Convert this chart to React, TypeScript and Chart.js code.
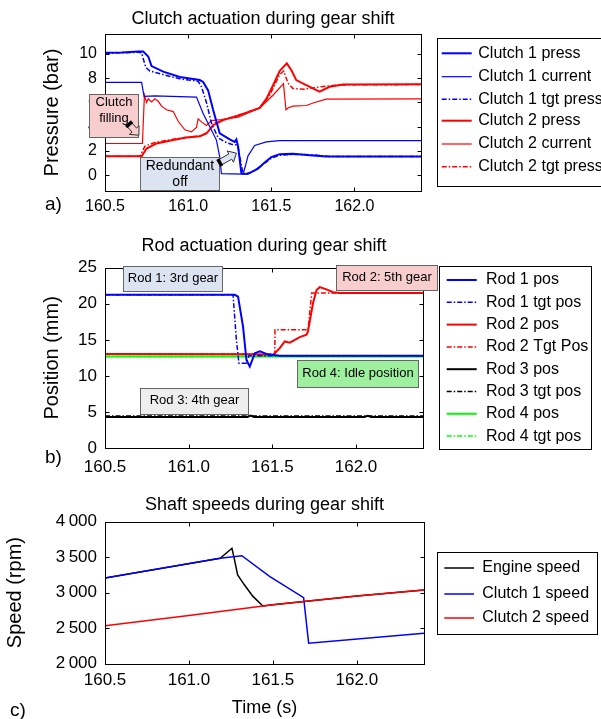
import React, { useEffect, useRef } from "react";
import { Chart, registerables } from "chart.js";

Chart.register(...registerables);

const FONT = "'Liberation Sans', Arial, Helvetica, sans-serif";

// ---------- shared time axis ----------
const timeMin = 160.5;
const timeMax = 162.4;
const timeTicks = [160.5, 161.0, 161.5, 162.0];

// ---------- a) clutch actuation ----------
const pressureTicks = [0, 2, 4, 6, 8, 10];
const c1PressT = [160.50, 160.60, 160.70, 160.73, 160.76, 160.78, 160.85, 160.95, 161.07, 161.09, 161.12, 161.15, 161.19, 161.25, 161.28, 161.29, 161.30, 161.32, 161.35, 161.38, 161.42, 161.46, 161.50, 161.55, 161.63, 161.73, 161.83, 162.00, 162.40];
const c1PressY = [10.10, 10.12, 10.20, 10.20, 9.80, 9.00, 8.55, 8.10, 7.85, 7.70, 7.00, 5.40, 3.45, 2.95, 2.75, 2.95, 2.40, 0.15, 0.10, 0.25, 0.55, 1.05, 1.50, 1.74, 1.78, 1.65, 1.55, 1.55, 1.55];
const c1CurT = [160.50, 160.72, 160.735, 160.80, 161.05, 161.09, 161.13, 161.17, 161.19, 161.20, 161.33, 161.345, 161.36, 161.40, 161.47, 161.55, 161.70, 162.40];
const c1CurY = [7.66, 7.66, 6.50, 6.55, 6.45, 5.10, 4.00, 2.90, 1.50, 0.14, 0.10, 0.80, 1.60, 2.45, 2.75, 2.85, 2.86, 2.86];
const c1TgtT = [160.50, 160.70, 160.72, 160.745, 160.77, 160.85, 160.95, 161.06, 161.08, 161.11, 161.14, 161.18, 161.22, 161.26, 161.29, 161.30, 161.33, 161.36, 161.40, 161.45, 161.50, 161.55, 161.65, 161.75, 161.85, 162.40];
const c1TgtY = [10.05, 10.15, 10.10, 8.90, 8.60, 8.30, 7.95, 7.75, 7.30, 6.00, 4.30, 3.10, 2.75, 2.55, 2.50, 2.30, 0.10, 0.10, 0.40, 0.90, 1.40, 1.65, 1.72, 1.68, 1.55, 1.55];
const c2PressT = [160.50, 160.72, 160.75, 160.81, 160.91, 160.99, 161.07, 161.11, 161.15, 161.21, 161.31, 161.43, 161.47, 161.51, 161.55, 161.593, 161.62, 161.65, 161.71, 161.79, 161.85, 161.93, 162.40];
const c2PressY = [1.57, 1.57, 2.20, 2.62, 2.90, 3.12, 3.22, 3.44, 4.13, 4.55, 4.96, 5.55, 6.30, 7.40, 8.60, 9.23, 8.68, 7.85, 7.44, 6.89, 7.30, 7.49, 7.50];
const c2CurT = [160.50, 160.725, 160.737, 160.75, 160.76, 160.78, 160.80, 160.82, 160.84, 160.87, 160.91, 160.94, 160.98, 161.02, 161.05, 161.06, 161.08, 161.11, 161.14, 161.20, 161.30, 161.43, 161.51, 161.573, 161.588, 161.60, 161.63, 161.71, 161.76, 161.83, 162.40];
const c2CurY = [2.62, 2.62, 6.60, 6.00, 6.30, 6.05, 6.30, 6.10, 5.70, 5.40, 5.25, 4.45, 3.75, 3.58, 3.95, 4.65, 4.40, 4.10, 4.50, 4.60, 4.80, 5.55, 6.60, 7.55, 5.40, 5.55, 5.70, 5.75, 6.00, 6.28, 6.30];
const c2TgtT = [160.50, 160.71, 160.74, 160.80, 160.90, 161.00, 161.08, 161.12, 161.16, 161.22, 161.31, 161.43, 161.49, 161.55, 161.575, 161.60, 161.63, 161.70, 161.80, 161.90, 162.40];
const c2TgtY = [1.57, 1.57, 2.40, 2.70, 2.95, 3.15, 3.25, 3.60, 4.30, 4.60, 5.00, 5.55, 6.60, 8.30, 8.60, 7.60, 7.15, 7.10, 7.30, 7.45, 7.48];

// ---------- b) rod actuation ----------
const positionTicks = [0, 5, 10, 15, 20, 25];
const r1PosT = [160.50, 161.275, 161.295, 161.325, 161.345, 161.365, 161.395, 161.425, 161.465, 161.544, 162.40];
const r1PosY = [21.25, 21.25, 21.0, 16.8, 12.2, 11.3, 13.15, 13.4, 13.05, 12.8, 12.78];
const r1TgtT = [160.50, 161.265, 161.285, 161.30, 161.345, 161.36, 162.40];
const r1TgtY = [21.25, 21.25, 15.0, 11.76, 11.76, 12.8, 12.8];
const r2PosT = [160.50, 161.40, 161.504, 161.544, 161.574, 161.604, 161.664, 161.704, 161.713, 161.743, 161.764, 161.783, 161.823, 161.863, 161.903, 162.40];
const r2PosY = [13.05, 13.0, 12.9, 13.84, 14.77, 14.6, 15.37, 15.7, 16.2, 20.1, 21.9, 22.3, 22.0, 21.6, 21.5, 21.5];
const r2TgtT = [160.50, 161.514, 161.516, 161.713, 161.735, 162.40];
const r2TgtY = [13.05, 13.05, 16.4, 16.4, 21.5, 21.5];
const r3PosT = [160.50, 161.35, 161.37, 161.39, 162.05, 162.07, 162.09, 162.40];
const r3PosY = [4.3, 4.3, 4.5, 4.3, 4.3, 4.45, 4.3, 4.3];
const r3TgtT = [160.50, 162.40];
const r3TgtY = [4.45, 4.45];
const r4PosT = [160.50, 162.40];
const r4PosY = [12.68, 12.68];
const r4TgtT = [160.50, 162.40];
const r4TgtY = [12.68, 12.68];

// ---------- c) shaft speeds ----------
const speedTicks = [2000, 2500, 3000, 3500, 4000];
const engineT = [160.50, 161.186, 161.256, 161.268, 161.29, 161.33, 161.38, 161.44, 161.50, 162.00, 162.40];
const engineY = [3205, 3484, 3625, 3500, 3250, 3110, 2950, 2812, 2830, 2953, 3037];
const c1SpeedT = [160.50, 161.186, 161.315, 161.48, 161.683, 161.713, 162.40];
const c1SpeedY = [3205, 3484, 3521, 3230, 2929, 2287, 2428];
const c2SpeedT = [160.50, 161.00, 161.50, 162.00, 162.40];
const c2SpeedY = [2531, 2676, 2830, 2953, 3037];

// ---------- helpers ----------
const DASHDOT = [5, 2, 1.5, 2];
const pts = (t: number[], v: number[]) => t.map((x, i) => ({ x, y: v[i] }));
function series(label: string, t: number[], v: number[], color: string, width: number, dash: boolean, order = 0) {
  return {
    label,
    data: pts(t, v),
    borderColor: color,
    backgroundColor: color,
    borderWidth: width,
    borderDash: dash ? DASHDOT : [],
    pointRadius: 0,
    pointHoverRadius: 0,
    tension: 0,
    fill: false,
    order,
  };
}

const crisp = (v: number) => Math.round(v) + 0.5;

const framePlugin = {
  id: "frame",
  afterDatasetsDraw(chart: any) {
    const { ctx, chartArea: a, scales } = chart;
    const l = crisp(a.left), r = crisp(a.right), t = crisp(a.top), b = crisp(a.bottom);
    ctx.save();
    ctx.strokeStyle = "#000";
    ctx.lineWidth = 1;
    ctx.setLineDash([]);
    ctx.strokeRect(l, t, r - l, b - t);
    const L = 4;
    ctx.beginPath();
    scales.x.ticks.forEach((tk: any) => {
      const p = crisp(scales.x.getPixelForValue(tk.value));
      ctx.moveTo(p, b); ctx.lineTo(p, b - L);
      ctx.moveTo(p, t); ctx.lineTo(p, t + L);
    });
    scales.y.ticks.forEach((tk: any) => {
      const p = crisp(scales.y.getPixelForValue(tk.value));
      ctx.moveTo(l, p); ctx.lineTo(l + L, p);
      ctx.moveTo(r, p); ctx.lineTo(r - L, p);
    });
    ctx.stroke();
    ctx.restore();
  },
};

function drawArrow(ctx: CanvasRenderingContext2D, x0: number, y0: number, x1: number, y1: number, fill: string) {
  const dx = x1 - x0, dy = y1 - y0;
  const len = Math.hypot(dx, dy);
  const ux = dx / len, uy = dy / len;
  const nx = -uy, ny = ux;
  const sw = 3, hw = 6.5, hl = 7;
  const bx = x1 - ux * hl, by = y1 - uy * hl;
  ctx.beginPath();
  ctx.moveTo(x0 + nx * sw, y0 + ny * sw);
  ctx.lineTo(bx + nx * sw, by + ny * sw);
  ctx.lineTo(bx + nx * hw, by + ny * hw);
  ctx.lineTo(x1, y1);
  ctx.lineTo(bx - nx * hw, by - ny * hw);
  ctx.lineTo(bx - nx * sw, by - ny * sw);
  ctx.lineTo(x0 - nx * sw, y0 - ny * sw);
  ctx.closePath();
  ctx.fillStyle = fill;
  ctx.fill();
  ctx.strokeStyle = "#333";
  ctx.lineWidth = 1;
  ctx.stroke();
  ctx.beginPath();
  ctx.moveTo(x0 + nx * (sw + 1), y0 + ny * (sw + 1));
  ctx.lineTo(x0 - nx * (sw + 1), y0 - ny * (sw + 1));
  ctx.lineWidth = 3.5;
  ctx.strokeStyle = "#000";
  ctx.stroke();
}

const notesPlugin = {
  id: "notes",
  afterDraw(chart: any, _args: any, opts: any) {
    const { ctx, scales } = chart;
    const X = (v: number) => scales.x.getPixelForValue(v);
    const Y = (v: number) => scales.y.getPixelForValue(v);
    ctx.save();
    ctx.setLineDash([]);
    (opts.boxes || []).forEach((bx: any) => {
      const x0 = Math.round(X(bx.x0)) + 0.5, x1 = Math.round(X(bx.x1)) + 0.5;
      const y0 = Math.round(Y(bx.y0)) + 0.5, y1 = Math.round(Y(bx.y1)) + 0.5;
      ctx.fillStyle = bx.fill;
      ctx.fillRect(x0, y0, x1 - x0, y1 - y0);
      ctx.strokeStyle = "#666";
      ctx.lineWidth = 1;
      ctx.strokeRect(x0, y0, x1 - x0, y1 - y0);
      ctx.fillStyle = "#000";
      ctx.font = `${bx.size}px ${FONT}`;
      ctx.textAlign = "center";
      ctx.textBaseline = "middle";
      bx.lines.forEach((ln: string, i: number) => ctx.fillText(ln, (x0 + x1) / 2, Y(bx.ty[i])));
    });
    (opts.arrows || []).forEach((ar: any) => drawArrow(ctx, X(ar.x0), Y(ar.y0), X(ar.x1), Y(ar.y1), ar.fill));
    (opts.tags || []).forEach((tg: any) => {
      ctx.fillStyle = "#000";
      ctx.font = `${tg.size}px ${FONT}`;
      ctx.textAlign = "center";
      ctx.textBaseline = "middle";
      ctx.fillText(tg.text, tg.px, tg.py);
    });
    ctx.restore();
  },
};

const boxLegendPlugin = {
  id: "boxLegend",
  afterDraw(chart: any, _args: any, o: any) {
    const { ctx } = chart;
    ctx.save();
    ctx.fillStyle = "#fff";
    ctx.fillRect(o.left, o.top, o.width, o.height);
    ctx.strokeStyle = "#000";
    ctx.lineWidth = 1;
    ctx.setLineDash([]);
    ctx.strokeRect(crisp(o.left), crisp(o.top), Math.round(o.width), Math.round(o.height));
    ctx.font = `${o.size}px ${FONT}`;
    ctx.textAlign = "left";
    ctx.textBaseline = "middle";
    chart.data.datasets.forEach((ds: any, i: number) => {
      const y = o.rows[i];
      ctx.beginPath();
      ctx.strokeStyle = ds.borderColor;
      ctx.lineWidth = ds.borderWidth;
      ctx.setLineDash(ds.borderDash || []);
      ctx.moveTo(o.s0, y);
      ctx.lineTo(o.s1, y);
      ctx.stroke();
      ctx.setLineDash([]);
      ctx.fillStyle = "#000";
      ctx.fillText(ds.label, o.tx, y);
    });
    ctx.restore();
  },
};

function baseOptions(p: any) {
  return {
    responsive: false,
    animation: false,
    events: [],
    layout: { padding: { left: 0, right: 601 - p.plotRight, top: 0, bottom: 0 } },
    scales: {
      x: {
        type: "linear",
        min: timeMin,
        max: timeMax,
        grid: { display: false, drawTicks: false },
        border: { display: false },
        afterBuildTicks: (s: any) => { s.ticks = timeTicks.map((v) => ({ value: v })); },
        afterFit: (s: any) => { s.height = p.xAxisH; },
        ticks: {
          autoSkip: false,
          maxRotation: 0,
          color: "#000",
          padding: p.xPad,
          font: { family: FONT, size: p.tickSize },
          callback: (v: any) => Number(v).toFixed(1),
        },
        title: p.xTitle
          ? { display: true, text: p.xTitle, color: "#000", font: { family: FONT, size: 18 }, padding: { top: 0, bottom: 0 } }
          : { display: false },
      },
      y: {
        type: "linear",
        min: p.yMin,
        max: p.yMax,
        grid: { display: false, drawTicks: false },
        border: { display: false },
        afterBuildTicks: (s: any) => { s.ticks = p.yTicks.map((v: number) => ({ value: v })); },
        afterFit: (s: any) => { s.width = 105; },
        ticks: {
          autoSkip: false,
          color: "#000",
          padding: 8,
          font: { family: FONT, size: p.tickSize },
          callback: p.yFmt || ((v: any) => String(v)),
        },
        title: {
          display: true,
          text: p.yTitle,
          color: "#000",
          font: { family: FONT, size: 20 },
          padding: { top: p.yTitlePad, bottom: 0 },
        },
      },
    },
    plugins: {
      legend: { display: false },
      tooltip: { enabled: false },
      title: {
        display: true,
        text: p.title,
        fullSize: false,
        color: "#000",
        font: { family: FONT, size: 18, weight: "normal" },
        padding: { top: p.titleTop, bottom: p.titleBottom },
      },
      notes: p.notes,
      boxLegend: p.legend,
    },
  };
}

const PINK = "#f8cdcd";
const PALEBLUE = "#dbe4f0";
const PALEGREEN = "#9ef09e";
const PALEGRAY = "#eeeeee";

export default function App() {
  const refA = useRef<HTMLCanvasElement>(null);
  const refB = useRef<HTMLCanvasElement>(null);
  const refC = useRef<HTMLCanvasElement>(null);

  useEffect(() => {
    const plugins = [framePlugin, notesPlugin, boxLegendPlugin];

    const chartA = new Chart(refA.current as HTMLCanvasElement, {
      type: "line",
      data: {
        datasets: [
          series("Clutch 1 press", c1PressT, c1PressY, "#0000ff", 2, false),
          series("Clutch 1 current", c1CurT, c1CurY, "#0000ff", 1.2, false),
          series("Clutch 1 tgt press", c1TgtT, c1TgtY, "#0000ff", 1.5, true),
          series("Clutch 2 press", c2PressT, c2PressY, "#ff0000", 2, false),
          series("Clutch 2 current", c2CurT, c2CurY, "#ff0000", 1.2, false),
          series("Clutch 2 tgt press", c2TgtT, c2TgtY, "#ff0000", 1.5, true),
        ],
      },
      options: baseOptions({
        plotRight: 421,
        xAxisH: 39,
        xPad: 6,
        tickSize: 16,
        yMin: -1.3,
        yMax: 11.65,
        yTicks: pressureTicks,
        yTitle: "Pressure (bar)",
        yTitlePad: 40,
        title: "Clutch actuation during gear shift",
        titleTop: 8.7,
        titleBottom: 3.7,
        notes: {
          boxes: [
            { x0: 160.4055, x1: 160.7004, y0: 6.67, y1: 3.17, fill: PINK, size: 13, lines: ["Clutch", "filling"], ty: [5.98, 4.69] },
            { x0: 160.7106, x1: 161.186, y0: 1.51, y1: -1.18, fill: PALEBLUE, size: 14, lines: ["Redundant", "off"], ty: [0.77, -0.55] },
          ],
          arrows: [
            { x0: 160.645, y0: 4.2, x1: 160.704, y1: 3.3, fill: PINK },
            { x0: 161.19, y0: 1.05, x1: 161.29, y1: 1.82, fill: PALEBLUE },
          ],
          tags: [{ text: "a)", px: 53.5, py: 205, size: 19 }],
        },
        legend: {
          left: 436.7, top: 38.3, width: 200, height: 148.4,
          rows: [53.3, 76.7, 99.3, 120.7, 144, 166.7],
          s0: 441.7, s1: 471.7, tx: 478.3, size: 16,
        },
      }) as any,
      plugins,
    });

    const chartB = new Chart(refB.current as HTMLCanvasElement, {
      type: "line",
      data: {
        datasets: [
          series("Rod 1 pos", r1PosT, r1PosY, "#0000ff", 2, false),
          series("Rod 1 tgt pos", r1TgtT, r1TgtY, "#0000ff", 1.5, true),
          series("Rod 2 pos", r2PosT, r2PosY, "#ff0000", 2, false),
          series("Rod 2 Tgt Pos", r2TgtT, r2TgtY, "#ff0000", 1.5, true),
          series("Rod 3 pos", r3PosT, r3PosY, "#000000", 2, false),
          series("Rod 3 tgt pos", r3TgtT, r3TgtY, "#000000", 1.5, true),
          series("Rod 4 pos", r4PosT, r4PosY, "#00ff00", 2, false),
          series("Rod 4 tgt pos", r4TgtT, r4TgtY, "#00ff00", 1.5, true),
        ],
      },
      options: baseOptions({
        plotRight: 423,
        xAxisH: 32,
        xPad: 9,
        tickSize: 17,
        yMin: 0,
        yMax: 25,
        yTicks: positionTicks,
        yTitle: "Position (mm)",
        yTitlePad: 40,
        title: "Rod actuation during gear shift",
        titleTop: 5.2,
        titleBottom: 10.9,
        notes: {
          boxes: [
            { x0: 160.6076, x1: 161.2017, y0: 25.28, y1: 21.71, fill: PALEBLUE, size: 13, lines: ["Rod 1: 3rd gear"], ty: [23.47] },
            { x0: 161.883, x1: 162.483, y0: 25.42, y1: 21.94, fill: PINK, size: 13, lines: ["Rod 2: 5th gear"], ty: [23.68] },
            { x0: 161.648, x1: 162.371, y0: 12.22, y1: 8.43, fill: PALEGREEN, size: 13, lines: ["Rod 4: Idle position"], ty: [10.35] },
            { x0: 160.7116, x1: 161.3548, y0: 8.29, y1: 4.72, fill: PALEGRAY, size: 13, lines: ["Rod 3: 4th gear"], ty: [6.53] },
          ],
          tags: [{ text: "b)", px: 53.5, py: 227.5, size: 19 }],
        },
        legend: {
          left: 439, top: 36, width: 152, height: 183.3,
          rows: [50, 72.3, 94.6, 116.9, 139.2, 161.5, 183.8, 206.1],
          s0: 446.7, s1: 476.7, tx: 486, size: 16,
        },
      }) as any,
      plugins,
    });

    const chartC = new Chart(refC.current as HTMLCanvasElement, {
      type: "line",
      data: {
        datasets: [
          series("Engine speed", engineT, engineY, "#000000", 1.5, false, 3),
          series("Clutch 1 speed", c1SpeedT, c1SpeedY, "#0000ff", 1.5, false, 2),
          series("Clutch 2 speed", c2SpeedT, c2SpeedY, "#ff0000", 1.5, false, 1),
        ],
      },
      options: baseOptions({
        plotRight: 424,
        xAxisH: 55.5,
        xPad: 7,
        tickSize: 17,
        xTitle: "Time (s)",
        yMin: 2000,
        yMax: 4000,
        yTicks: speedTicks,
        yFmt: (v: any) => {
          const n = Number(v);
          return `${Math.floor(n / 1000)}\u2009${String(n % 1000).padStart(3, "0")}`;
        },
        yTitle: "Speed (rpm)",
        yTitlePad: 3.5,
        title: "Shaft speeds during gear shift",
        titleTop: 14.2,
        titleBottom: 5.9,
        notes: {
          tags: [{ text: "c)", px: 18, py: 231, size: 19 }],
        },
        legend: {
          left: 436.7, top: 71.7, width: 160, height: 82.3,
          rows: [88, 114, 138],
          s0: 444.3, s1: 474, tx: 482.3, size: 16,
        },
      }) as any,
      plugins,
    });

    return () => {
      chartA.destroy();
      chartB.destroy();
      chartC.destroy();
    };
  }, []);

  const cv = (top: number, h: number): React.CSSProperties => ({
    position: "absolute",
    left: 0,
    top,
    width: 601,
    height: h,
    display: "block",
  });

  return (
    <div style={{ position: "fixed", left: 0, top: 0, width: 601, height: 719, background: "#fff", overflow: "hidden" }}>
      <canvas ref={refA} width={601} height={230} style={cv(0, 230)} />
      <canvas ref={refB} width={601} height={250} style={cv(230, 250)} />
      <canvas ref={refC} width={601} height={239} style={cv(480, 239)} />
    </div>
  );
}
